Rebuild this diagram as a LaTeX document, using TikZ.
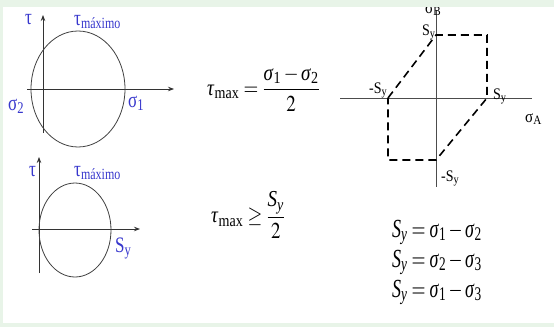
\documentclass[tikz,border=0pt]{standalone}
\usepackage{amsmath}
\usepackage{mathptmx}
\usepackage[no-math]{fontspec}
\setmainfont{Liberation Serif}
\usetikzlibrary{arrows.meta,shapes.geometric}
\definecolor{labB}{RGB}{55,55,205}
\definecolor{bgG}{RGB}{232,244,232}
\newcommand{\sym}[2]{\text{\textit{#1}\textsubscript{#2}}}

\begin{document}
\begin{tikzpicture}[x=1pt,y=-1pt,>={Stealth[length=6pt,width=4.5pt]},
  axis/.style={line width=0.8pt,black!80},
  mohr/.style={draw=black!75,line width=0.8pt,ellipse,inner sep=0pt},
  lbl/.style={text=labB,inner sep=0pt,anchor=base west,font=\fontsize{17}{19}\selectfont,yscale=1.3},
  plane/.style={inner sep=0pt,anchor=base west,font=\fontsize{14}{16}\selectfont,yscale=1.15},
  eq/.style={inner sep=0pt,font=\fontsize{19}{22}\selectfont,yscale=1.2},
  yield/.style={inner sep=0pt,anchor=base west,font=\fontsize{18}{21}\selectfont,yscale=1.45},
  hexa/.style={dashed,dash pattern=on 8pt off 5pt,line width=1.6pt}]
\useasboundingbox (0,0) rectangle (554,327);
\fill[bgG] (0,0) rectangle (554,327);
\fill[white] (3,7) rectangle (554,323);
\begin{scope}
\clip (3,7) rectangle (554,323);

% Mohr circle, sigma_1 and sigma_2
\coordinate (h1a) at (27,89);  \coordinate (h1b) at (174,89);
\coordinate (v1a) at (43,133); \coordinate (v1b) at (43,15);
\draw[axis,->] (h1a) -- (h1b);
\draw[axis,->] (v1a) -- (v1b);
\node[mohr,minimum width=94,minimum height=116] (ring1) at (78,89) {};
\node[lbl] (tau1) at (25,24) {τ};
\node[lbl] (tmax1) at (74,25) {τ\textsubscript{\fontsize{12}{14}\selectfont máximo}};
\node[lbl] (sig2) at (8,110) {σ\textsubscript{2}};
\node[lbl] (sig1) at (128,107) {σ\textsubscript{1}};

% Mohr circle, pure shear
\coordinate (h2a) at (32,229);  \coordinate (h2b) at (140,229);
\coordinate (v2a) at (39,273);  \coordinate (v2b) at (39,157);
\draw[axis,->] (h2a) -- (h2b);
\draw[axis,->] (v2a) -- (v2b);
\node[mohr,minimum width=72,minimum height=94] (ring2) at (75,230) {};
\node[lbl] (tau2) at (29,176) {τ};
\node[lbl] (tmax2) at (74,176) {τ\textsubscript{\fontsize{12}{14}\selectfont máximo}};
\node[lbl] (sy2) at (115,252) {S\textsubscript{y}};

% formulas
\node[eq,anchor=west] (form1) at (207,89)
  {$\sym{τ}{\upshape max}=\dfrac{\sym{σ}{1}-\sym{σ}{2}}{2}$};
\node[eq,anchor=west] (form2) at (211,215)
  {$\sym{τ}{\upshape max}\geq\dfrac{\sym{S}{\itshape y}}{2}$};

% sigma_A - sigma_B plane
\coordinate (hAa) at (340,98); \coordinate (hAb) at (532,98);
\coordinate (vBa) at (436,10); \coordinate (vBb) at (436,187);
\draw[axis,black!70] (hAa) -- (hAb);
\draw[axis,black!70] (vBa) -- (vBb);
\coordinate (pB) at (436,35);  \coordinate (q1) at (487,35);
\coordinate (pA) at (487,98);  \coordinate (nB) at (436,160);
\coordinate (q3) at (388,160); \coordinate (nA) at (388,98);
\draw[hexa] (nA) -- (pB) -- (q1) -- (pA) -- (nB) -- (q3) -- cycle;
\node[plane,font=\fontsize{15}{17}\selectfont] (sigB) at (425,13) {σ\textsubscript{B}};
\node[plane] (lpB) at (422,35) {S\textsubscript{y}};
\node[plane] (lnA) at (369,93) {-S\textsubscript{y}};
\node[plane] (lpA) at (493,99) {S\textsubscript{y}};
\node[plane,font=\fontsize{15}{17}\selectfont] (sigA) at (525,122) {σ\textsubscript{A}};
\node[plane] (lnB) at (441,181) {-S\textsubscript{y}};

% yield conditions
\node[yield] (y1) at (392,237) {$\sym{S}{\itshape y}=\sym{σ}{1}-\sym{σ}{2}$};
\node[yield] (y2) at (392,267) {$\sym{S}{\itshape y}=\sym{σ}{2}-\sym{σ}{3}$};
\node[yield] (y3) at (392,297) {$\sym{S}{\itshape y}=\sym{σ}{1}-\sym{σ}{3}$};
\end{scope}
\end{tikzpicture}
\end{document}
